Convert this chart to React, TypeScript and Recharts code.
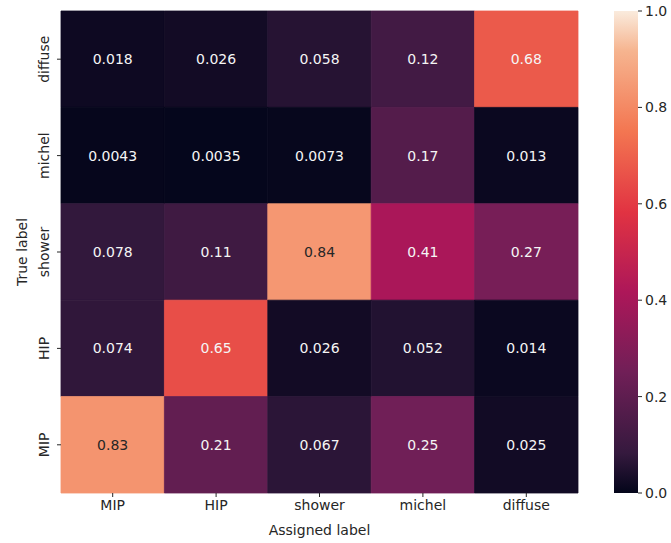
import React from 'react';
import {
  ScatterChart, Scatter, XAxis, YAxis, ReferenceArea,
  BarChart, Bar,
} from 'recharts';

// labels, true label rows listed top to bottom as shown
const assignedLabels = ['MIP', 'HIP', 'shower', 'michel', 'diffuse'];
const trueLabels = ['diffuse', 'michel', 'shower', 'HIP', 'MIP'];

const rowDiffuse = [0.018, 0.026, 0.058, 0.12, 0.68];
const rowMichel = [0.0043, 0.0035, 0.0073, 0.17, 0.013];
const rowShower = [0.078, 0.11, 0.84, 0.41, 0.27];
const rowHIP = [0.074, 0.65, 0.026, 0.052, 0.014];
const rowMIP = [0.83, 0.21, 0.067, 0.25, 0.025];
const matrix = [rowDiffuse, rowMichel, rowShower, rowHIP, rowMIP];

const colorbarTicks = [0, 0.2, 0.4, 0.6, 0.8, 1.0];

// seaborn "rocket" anchors
const rocketPos = [0, 0.083, 0.25, 0.417, 0.583, 0.75, 0.917, 1];
const rocketHex = ['#03051a', '#35193e', '#701f57', '#ad1759', '#e13342', '#f37651', '#f6b48f', '#faebdd'];

const FONT = '"DejaVu Sans", sans-serif';
const n = assignedLabels.length;

const hexToRgb = (h: string) => [1, 3, 5].map((i) => parseInt(h.slice(i, i + 2), 16));

const rocket = (v: number) => {
  const t = Math.max(0, Math.min(1, v));
  let i = 0;
  while (i < rocketPos.length - 2 && t > rocketPos[i + 1]) i++;
  const f = (t - rocketPos[i]) / (rocketPos[i + 1] - rocketPos[i]);
  const a = hexToRgb(rocketHex[i]);
  const b = hexToRgb(rocketHex[i + 1]);
  const c = a.map((x, k) => Math.round(x + (b[k] - x) * f));
  return `rgb(${c[0]},${c[1]},${c[2]})`;
};

const fmt = (v: number) => Number(v.toPrecision(2)).toString();

const cells = matrix.flatMap((row, r) =>
  row.map((v, c) => ({ x: c + 0.5, y: n - 1 - r + 0.5, r, c, v }))
);

const centerTicks = assignedLabels.map((_, i) => i + 0.5);

const YTick = (props: any) => {
  const { x, y, payload } = props;
  const label = trueLabels[n - 1 - Math.floor(payload.value)];
  return (
    <text
      x={x - 2}
      y={y}
      transform={`rotate(-90, ${x - 2}, ${y})`}
      textAnchor="middle"
      fill="#262626"
      fontSize={14}
      fontFamily={FONT}
    >
      {label}
    </text>
  );
};

const YLabel = () => (
  <text
    x={27}
    y={252}
    transform="rotate(-90, 27, 252)"
    textAnchor="middle"
    fill="#262626"
    fontSize={14}
    fontFamily={FONT}
  >
    True label
  </text>
);

export default function App() {
  return (
    <div style={{ position: 'absolute', left: 0, top: 0, width: 671, height: 543, background: '#fff' }}>
      <div style={{ position: 'absolute', left: 0, top: 0 }}>
        <ScatterChart width={590} height={543} margin={{ top: 11, right: 12, bottom: 0, left: 0 }}>
          <XAxis
            type="number"
            dataKey="x"
            domain={[0, n]}
            ticks={centerTicks}
            tickFormatter={(v: number) => assignedLabels[Math.floor(v)]}
            axisLine={false}
            tickLine={{ stroke: '#262626' }}
            tickSize={4}
            tickMargin={3}
            height={50}
            tick={{ fill: '#262626', fontSize: 14, fontFamily: FONT }}
            label={{ value: 'Assigned label', position: 'insideBottom', offset: 8, fill: '#262626', fontSize: 14, fontFamily: FONT }}
          />
          <YAxis
            type="number"
            dataKey="y"
            domain={[0, n]}
            ticks={centerTicks}
            axisLine={false}
            tickLine={{ stroke: '#262626' }}
            tickSize={4}
            tickMargin={6}
            width={61}
            tick={<YTick />}
            label={<YLabel />}
          />
          {cells.map((d) => (
            <ReferenceArea
              key={`${d.r}-${d.c}`}
              x1={d.c}
              x2={d.c + 1}
              y1={n - 1 - d.r}
              y2={n - d.r}
              fill={rocket(d.v)}
              fillOpacity={1}
              stroke={rocket(d.v)}
              strokeWidth={0.8}
              label={{
                value: fmt(d.v),
                position: 'center',
                fill: d.v > 0.75 ? '#262626' : '#f5f5f5',
                fontSize: 14,
                fontFamily: FONT,
              }}
            />
          ))}
          <Scatter data={cells} fill="transparent" isAnimationActive={false} />
        </ScatterChart>
      </div>
      <div style={{ position: 'absolute', left: 600, top: 0 }}>
        <BarChart
          width={71}
          height={543}
          data={[{ name: 'cb', v: 1 }]}
          margin={{ top: 11, right: 0, bottom: 50, left: 14 }}
          barCategoryGap={0}
        >
          <defs>
            <linearGradient id="rocketGrad" x1="0" y1="1" x2="0" y2="0">
              {rocketPos.map((p, i) => (
                <stop key={i} offset={p} stopColor={rocketHex[i]} />
              ))}
            </linearGradient>
          </defs>
          <XAxis dataKey="name" hide />
          <YAxis
            orientation="right"
            type="number"
            domain={[0, 1]}
            ticks={colorbarTicks}
            tickFormatter={(v: number) => v.toFixed(1)}
            axisLine={false}
            tickLine={{ stroke: '#262626' }}
            tickSize={4}
            tickMargin={3}
            width={33}
            interval={0}
            tick={{ fill: '#262626', fontSize: 14, fontFamily: FONT, textAnchor: 'start' }}
          />
          <Bar dataKey="v" fill="url(#rocketGrad)" isAnimationActive={false} />
        </BarChart>
      </div>
    </div>
  );
}
